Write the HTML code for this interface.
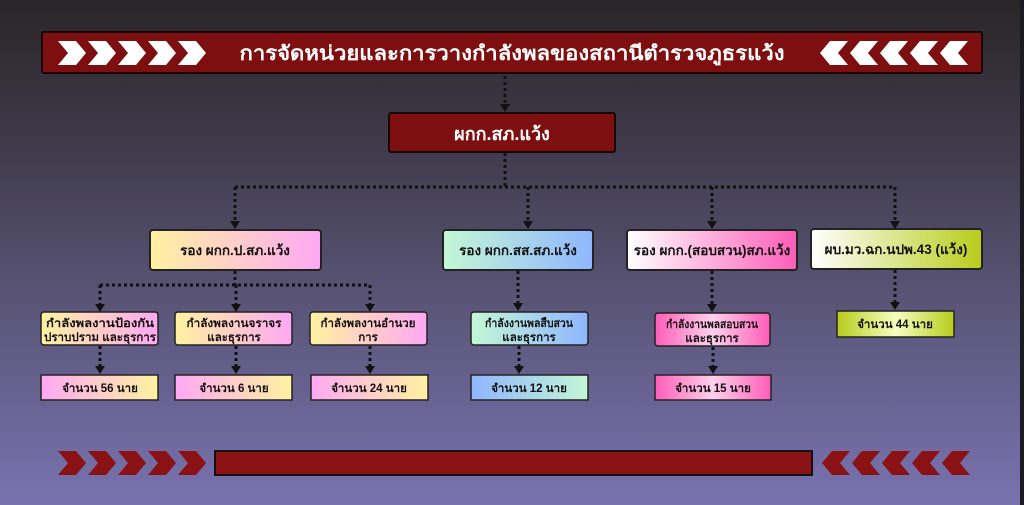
<!DOCTYPE html>
<html><head><meta charset="utf-8"><style>
html,body{margin:0;padding:0;width:1024px;height:505px;overflow:hidden}
svg{display:block}
text{font-family:"Liberation Sans","Noto Sans CJK SC",sans-serif;font-weight:bold}
</style></head><body>
<svg width="1024" height="505" viewBox="0 0 1024 505" xmlns="http://www.w3.org/2000/svg">
<defs>
<linearGradient id="bg" x1="0" y1="0" x2="0" y2="1">
<stop offset="0" stop-color="#2a2528"/><stop offset="0.3" stop-color="#403c4c"/><stop offset="0.6" stop-color="#5a5577"/><stop offset="1" stop-color="#7873b0"/></linearGradient>
<linearGradient id="gA" x1="0" x2="1"><stop offset="0" stop-color="#fff2a0"/><stop offset="1" stop-color="#ffa8f4"/></linearGradient>
<linearGradient id="gA2" x1="0" x2="1"><stop offset="0" stop-color="#ffa8f4"/><stop offset="1" stop-color="#fff2a0"/></linearGradient>
<linearGradient id="gB" x1="0" x2="1"><stop offset="0" stop-color="#c4f7d6"/><stop offset="1" stop-color="#8fb6ff"/></linearGradient>
<linearGradient id="gB2" x1="0" x2="1"><stop offset="0" stop-color="#8fb6ff"/><stop offset="1" stop-color="#c4f7d6"/></linearGradient>
<linearGradient id="gC" x1="0" x2="1"><stop offset="0" stop-color="#ffffff"/><stop offset="1" stop-color="#ff5db8"/></linearGradient>
<linearGradient id="gC2" x1="0" x2="1"><stop offset="0" stop-color="#ff5db8"/><stop offset="0.5" stop-color="#ffd0ec"/><stop offset="1" stop-color="#ff5db8"/></linearGradient>
<linearGradient id="gD" x1="0" x2="1"><stop offset="0" stop-color="#ffffff"/><stop offset="1" stop-color="#b8cc1a"/></linearGradient>
<linearGradient id="gD2" x1="0" x2="1"><stop offset="0" stop-color="#b8cc1a"/><stop offset="0.5" stop-color="#f5ffc0"/><stop offset="1" stop-color="#b8cc1a"/></linearGradient>
</defs>
<rect width="1024" height="505" fill="url(#bg)"/>
<rect x="1020" y="0" width="4" height="505" fill="#1c1a22"/>
<!-- title -->
<rect x="42" y="32" width="940" height="41" rx="2" fill="#7d0f10" stroke="#1a0505" stroke-width="2"/>
<g fill="#fff">
<polygon points="58,41 76,41 86,53 76,65 58,65 68,53"/>
<polygon points="88,41 106,41 116,53 106,65 88,65 98,53"/>
<polygon points="118,41 136,41 146,53 136,65 118,65 128,53"/>
<polygon points="148,41 166,41 176,53 166,65 148,65 158,53"/>
<polygon points="178,41 196,41 206,53 196,65 178,65 188,53"/>
<polygon points="968,41 950,41 940,53 950,65 968,65 958,53"/>
<polygon points="938,41 920,41 910,53 920,65 938,65 928,53"/>
<polygon points="908,41 890,41 880,53 890,65 908,65 898,53"/>
<polygon points="878,41 860,41 850,53 860,65 878,65 868,53"/>
<polygon points="848,41 830,41 820,53 830,65 848,65 838,53"/>
</g>
<text x="512" y="60" font-size="20" fill="#fff" text-anchor="middle" textLength="545" lengthAdjust="spacingAndGlyphs">การจัดหน่วยและการวางกำลังพลของสถานีตำรวจภูธรแว้ง</text>
<!-- connectors -->
<g stroke="#111" stroke-width="3" stroke-dasharray="3 3" fill="none">
<line x1="505" y1="76" x2="505" y2="104"/>
<line x1="505" y1="153" x2="505" y2="187"/>
<line x1="235" y1="187" x2="895" y2="187"/>
<line x1="235" y1="187" x2="235" y2="221"/>
<line x1="528" y1="187" x2="528" y2="221"/>
<line x1="712" y1="187" x2="712" y2="221"/>
<line x1="895" y1="187" x2="895" y2="221"/>
<line x1="235" y1="271" x2="235" y2="285"/>
<line x1="100" y1="285" x2="370" y2="285"/>
<line x1="100" y1="285" x2="100" y2="304"/>
<line x1="236" y1="285" x2="236" y2="304"/>
<line x1="370" y1="285" x2="370" y2="304"/>
<line x1="100" y1="346" x2="100" y2="366"/>
<line x1="236" y1="346" x2="236" y2="366"/>
<line x1="370" y1="346" x2="370" y2="366"/>
<line x1="518" y1="271" x2="518" y2="303"/>
<line x1="519" y1="346" x2="519" y2="366"/>
<line x1="712" y1="271" x2="712" y2="304"/>
<line x1="713" y1="347" x2="713" y2="366"/>
<line x1="895" y1="270" x2="895" y2="302"/>
</g>
<g fill="#111">
<polygon points="500,104 510,104 505,112"/>
<polygon points="230,221 240,221 235,229"/>
<polygon points="523,221 533,221 528,229"/>
<polygon points="707,221 717,221 712,229"/>
<polygon points="890,221 900,221 895,229"/>
<polygon points="95,304 105,304 100,312"/>
<polygon points="231,304 241,304 236,312"/>
<polygon points="365,304 375,304 370,312"/>
<polygon points="95,366 105,366 100,374"/>
<polygon points="231,366 241,366 236,374"/>
<polygon points="365,366 375,366 370,374"/>
<polygon points="513,303 523,303 518,311"/>
<polygon points="514,366 524,366 519,374"/>
<polygon points="707,304 717,304 712,312"/>
<polygon points="708,366 718,366 713,374"/>
<polygon points="890,302 900,302 895,310"/>
</g>
<!-- main box -->
<rect x="389" y="113" width="226" height="39" rx="2" fill="#7d0f10" stroke="#1a0505" stroke-width="2"/>
<text x="502" y="140" font-size="18" fill="#fff" text-anchor="middle">ผกก.สภ.แว้ง</text>
<!-- level 2 -->
<g stroke="#222" stroke-width="2">
<rect x="150" y="230" width="171" height="40" rx="3" fill="url(#gA)"/>
<rect x="443" y="230" width="150" height="40" rx="3" fill="url(#gB)"/>
<rect x="627" y="230" width="170" height="40" rx="3" fill="url(#gC)"/>
<rect x="811" y="229" width="171" height="40" rx="3" fill="url(#gD)"/>
</g>
<g font-size="13.5" fill="#111" text-anchor="middle">
<text x="235" y="255">รอง ผกก.ป.สภ.แว้ง</text>
<text x="518" y="255">รอง ผกก.สส.สภ.แว้ง</text>
<text x="712" y="255">รอง ผกก.(สอบสวน)สภ.แว้ง</text>
<text x="896" y="254">ผบ.มว.ฉก.นปพ.43 (แว้ง)</text>
</g>
<!-- level 3 -->
<g stroke="#222" stroke-width="1.5">
<rect x="41" y="312" width="117" height="33" rx="3" fill="url(#gA)"/>
<rect x="175" y="312" width="117" height="33" rx="3" fill="url(#gA)"/>
<rect x="310" y="312" width="117" height="33" rx="3" fill="url(#gA)"/>
<rect x="471" y="312" width="117" height="33" rx="3" fill="url(#gB)"/>
<rect x="655" y="313" width="115" height="33" rx="3" fill="url(#gC2)"/>
<rect x="41" y="375" width="117" height="25" fill="url(#gA2)"/>
<rect x="175" y="375" width="117" height="25" fill="url(#gA2)"/>
<rect x="311" y="375" width="117" height="25" fill="url(#gA2)"/>
<rect x="471" y="375" width="117" height="25" fill="url(#gB2)"/>
<rect x="655" y="375" width="116" height="25" fill="url(#gC2)"/>
<rect x="837" y="311" width="117" height="26" fill="url(#gD2)"/>
</g>
<g font-size="11.5" fill="#111" text-anchor="middle">
<text x="100" y="327" textLength="108" lengthAdjust="spacingAndGlyphs">กำลังพลงานป้องกัน</text><text x="100" y="341" textLength="112" lengthAdjust="spacingAndGlyphs">ปราบปราม และธุรการ</text>
<text x="234" y="327" textLength="95" lengthAdjust="spacingAndGlyphs">กำลังพลงานจราจร</text><text x="234" y="341">และธุรการ</text>
<text x="368" y="327" textLength="95" lengthAdjust="spacingAndGlyphs">กำลังพลงานอำนวย</text><text x="368" y="341">การ</text>
<text x="529" y="327" textLength="88" lengthAdjust="spacingAndGlyphs">กำลังงานพลสืบสวน</text><text x="529" y="341">และธุรการ</text>
<text x="712" y="328" textLength="92" lengthAdjust="spacingAndGlyphs">กำลังงานพลสอบสวน</text><text x="712" y="342">และธุรการ</text>
</g>
<g font-size="11.5" fill="#111" text-anchor="middle" style="white-space:pre">
<text x="100" y="392">จำนวน   56   นาย</text>
<text x="234" y="392">จำนวน   6    นาย</text>
<text x="369" y="392">จำนวน   24  นาย</text>
<text x="529" y="392">จำนวน  12  นาย</text>
<text x="713" y="392">จำนวน  15  นาย</text>
<text x="895" y="328">จำนวน  44  นาย</text>
</g>
<!-- bottom -->
<g fill="#8a1114">
<polygon points="58,451 76,451 86,463 76,475 58,475 68,463"/>
<polygon points="88,451 106,451 116,463 106,475 88,475 98,463"/>
<polygon points="118,451 136,451 146,463 136,475 118,475 128,463"/>
<polygon points="148,451 166,451 176,463 166,475 148,475 158,463"/>
<polygon points="178,451 196,451 206,463 196,475 178,475 188,463"/>
<polygon points="970,451 952,451 942,463 952,475 970,475 960,463"/>
<polygon points="940,451 922,451 912,463 922,475 940,475 930,463"/>
<polygon points="910,451 892,451 882,463 892,475 910,475 900,463"/>
<polygon points="880,451 862,451 852,463 862,475 880,475 870,463"/>
<polygon points="850,451 832,451 822,463 832,475 850,475 840,463"/>
</g>
<rect x="215" y="451" width="597" height="24" fill="#8a1114" stroke="#111" stroke-width="2"/>
</svg>
</body></html>
